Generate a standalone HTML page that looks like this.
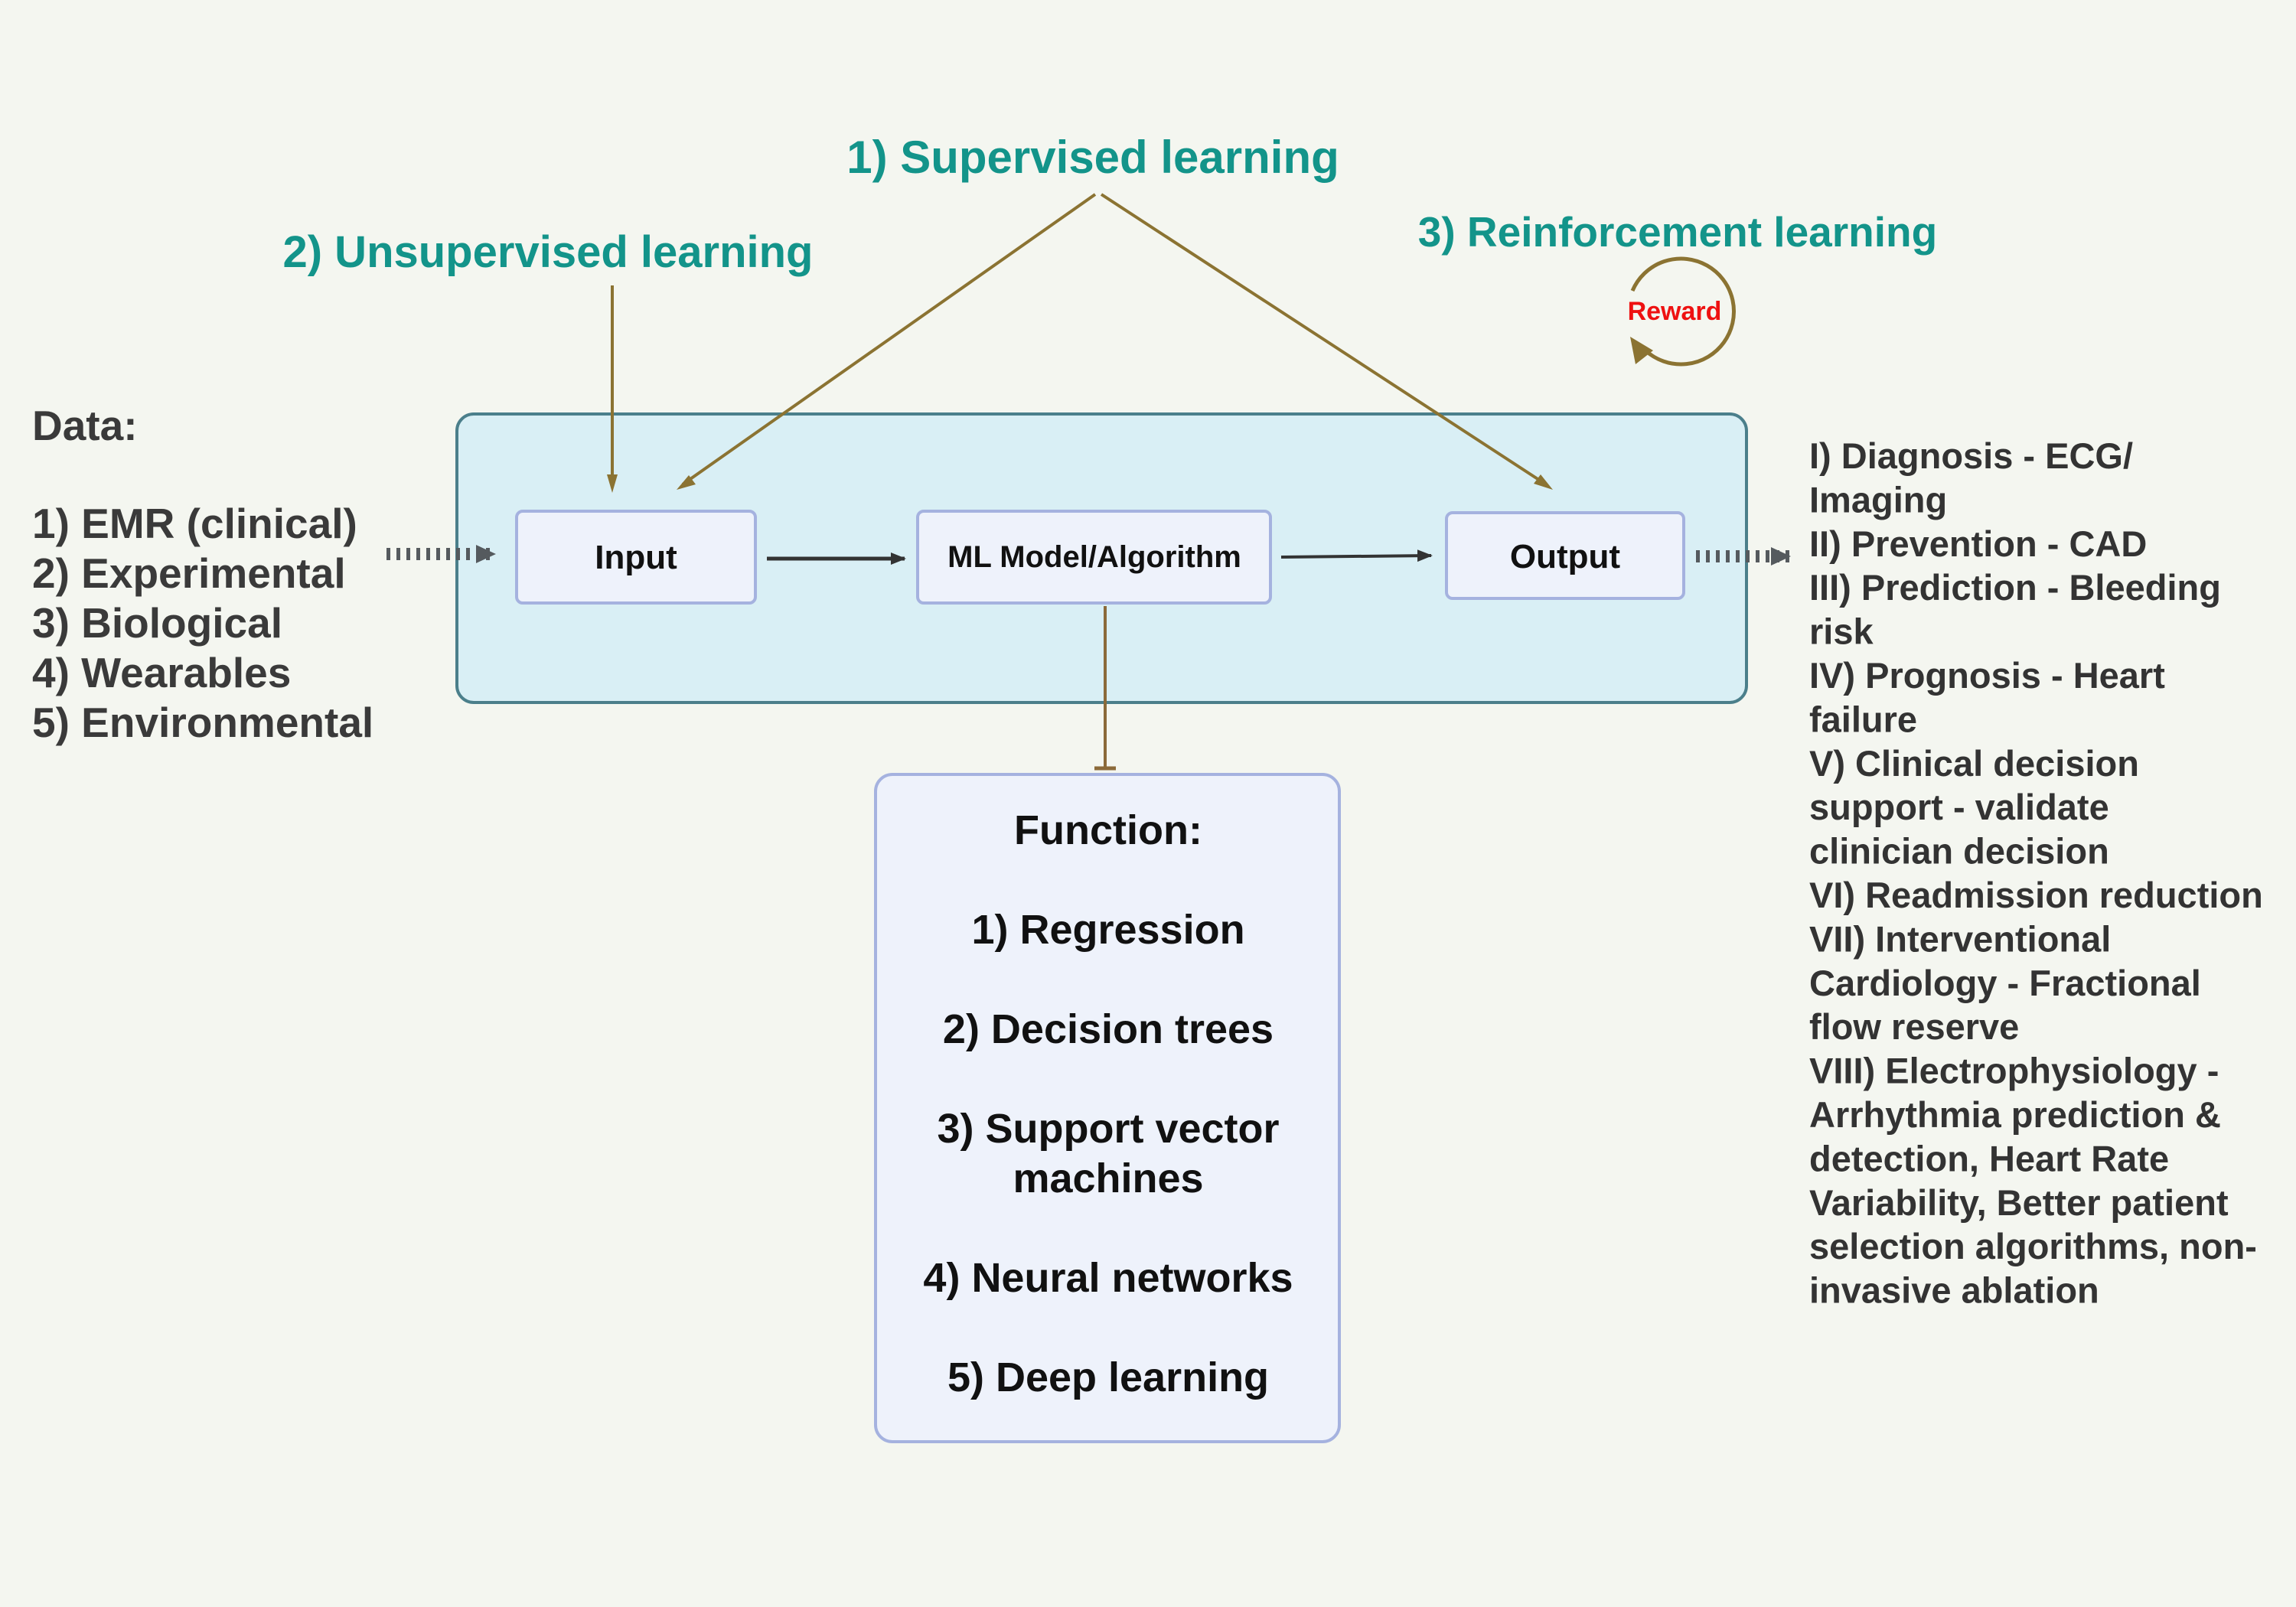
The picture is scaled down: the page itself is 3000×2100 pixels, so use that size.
<!DOCTYPE html>
<html><head><meta charset="utf-8"><style>
html,body{margin:0;padding:0;background:#f4f6f0;}
svg{display:block;}
text{font-family:"Liberation Sans",sans-serif;font-weight:bold;}
</style></head><body>
<svg width="3000" height="2100" viewBox="0 0 3000 2100" xmlns="http://www.w3.org/2000/svg">
<defs>
<marker id="ak" markerWidth="20" markerHeight="20" refX="18" refY="10" orient="auto" markerUnits="userSpaceOnUse"><path d="M0,2 L20,10 L0,18 z" fill="#333"/></marker>
<marker id="ag" markerWidth="26" markerHeight="26" refX="24" refY="13" orient="auto" markerUnits="userSpaceOnUse"><path d="M0,1 L26,13 L0,25 z" fill="#555a5e"/></marker>
</defs>
<rect width="3000" height="2100" fill="#f4f6f0"/>

<text x="1428" y="226" font-size="60" fill="#13948a" text-anchor="middle">1) Supervised  learning</text>
<text x="716" y="349" font-size="58" fill="#13948a" text-anchor="middle">2) Unsupervised learning</text>
<text x="2192" y="322" font-size="55" fill="#13948a" text-anchor="middle">3) Reinforcement learning</text>

<path d="M2133,380 A69,69 0 1 1 2150,458" fill="none" stroke="#8b7332" stroke-width="5"/>
<path d="M2130,440 L2137,476 L2160,458 z" fill="#8b7332"/>
<text x="2188" y="418" font-size="34" fill="#ee1111" text-anchor="middle">Reward</text>

<rect x="597" y="541" width="1685" height="377" rx="22" fill="#d9eff5" stroke="#4b7f8b" stroke-width="4"/>

<line x1="800" y1="373" x2="800" y2="625" stroke="#8b7332" stroke-width="4"/>
<path d="M793,620 L800,644 L807,620 z" fill="#8b7332"/>
<line x1="1431" y1="254" x2="892" y2="633" stroke="#8b7332" stroke-width="4"/>
<path d="M884,640 L909,633 L900,621 z" fill="#8b7332"/>
<line x1="1439" y1="254" x2="2020" y2="633" stroke="#8b7332" stroke-width="4"/>
<path d="M2029,640 L2004,632 L2013,620 z" fill="#8b7332"/>

<rect x="675" y="668" width="312" height="120" rx="8" fill="#eef2fb" stroke="#a5b2df" stroke-width="4"/>
<text x="831" y="743" font-size="44" fill="#111" text-anchor="middle">Input</text>
<rect x="1199" y="668" width="461" height="120" rx="8" fill="#eef2fb" stroke="#a5b2df" stroke-width="4"/>
<text x="1430" y="741" font-size="40" fill="#111" text-anchor="middle">ML Model/Algorithm</text>
<rect x="1890" y="670" width="310" height="112" rx="8" fill="#eef2fb" stroke="#a5b2df" stroke-width="4"/>
<text x="2045" y="742" font-size="44" fill="#111" text-anchor="middle">Output</text>

<line x1="1002" y1="730" x2="1182" y2="730" stroke="#333" stroke-width="5" marker-end="url(#ak)"/>
<line x1="1674" y1="728" x2="1870" y2="726" stroke="#333" stroke-width="4" marker-end="url(#ak)"/>

<line x1="1444" y1="792" x2="1444" y2="1004" stroke="#8b6a3a" stroke-width="4"/>
<line x1="1430" y1="1004" x2="1458" y2="1004" stroke="#8b6a3a" stroke-width="5"/>

<line x1="505" y1="724" x2="646" y2="724" stroke="#555a5e" stroke-width="16" stroke-dasharray="5,8" marker-end="url(#ag)"/>
<line x1="2216" y1="727" x2="2338" y2="727" stroke="#555a5e" stroke-width="16" stroke-dasharray="5,8" marker-end="url(#ag)"/>

<rect x="1144" y="1012" width="606" height="872" rx="22" fill="#eef2fb" stroke="#a5b2df" stroke-width="4"/>
<g font-size="54" fill="#111" text-anchor="middle">
<text x="1448" y="1103">Function:</text>
<text x="1448" y="1233">1) Regression</text>
<text x="1448" y="1363">2) Decision trees</text>
<text x="1448" y="1493">3) Support vector</text>
<text x="1448" y="1558">machines</text>
<text x="1448" y="1688">4) Neural networks</text>
<text x="1448" y="1818">5) Deep learning</text>
</g>

<g font-size="55" fill="#3a3a3a">
<text x="42" y="575">Data:</text>
<text x="42" y="703">1) EMR (clinical)</text>
<text x="42" y="768">2) Experimental</text>
<text x="42" y="833">3) Biological</text>
<text x="42" y="898">4) Wearables</text>
<text x="42" y="963">5) Environmental</text>
</g>

<g font-size="47" fill="#333">
<text x="2364" y="612">I) Diagnosis - ECG/</text>
<text x="2364" y="669.4">Imaging</text>
<text x="2364" y="726.8">II) Prevention - CAD</text>
<text x="2364" y="784.2">III) Prediction - Bleeding</text>
<text x="2364" y="841.6">risk</text>
<text x="2364" y="899">IV) Prognosis - Heart</text>
<text x="2364" y="956.4">failure</text>
<text x="2364" y="1013.8">V) Clinical decision</text>
<text x="2364" y="1071.2">support - validate</text>
<text x="2364" y="1128.6">clinician decision</text>
<text x="2364" y="1186">VI) Readmission reduction</text>
<text x="2364" y="1243.4">VII) Interventional</text>
<text x="2364" y="1300.8">Cardiology - Fractional</text>
<text x="2364" y="1358.2">flow reserve</text>
<text x="2364" y="1415.6">VIII) Electrophysiology -</text>
<text x="2364" y="1473">Arrhythmia prediction &amp;</text>
<text x="2364" y="1530.4">detection, Heart Rate</text>
<text x="2364" y="1587.8">Variability, Better patient</text>
<text x="2364" y="1645.2">selection algorithms, non-</text>
<text x="2364" y="1702.6">invasive ablation</text>
</g>
</svg>
</body></html>
